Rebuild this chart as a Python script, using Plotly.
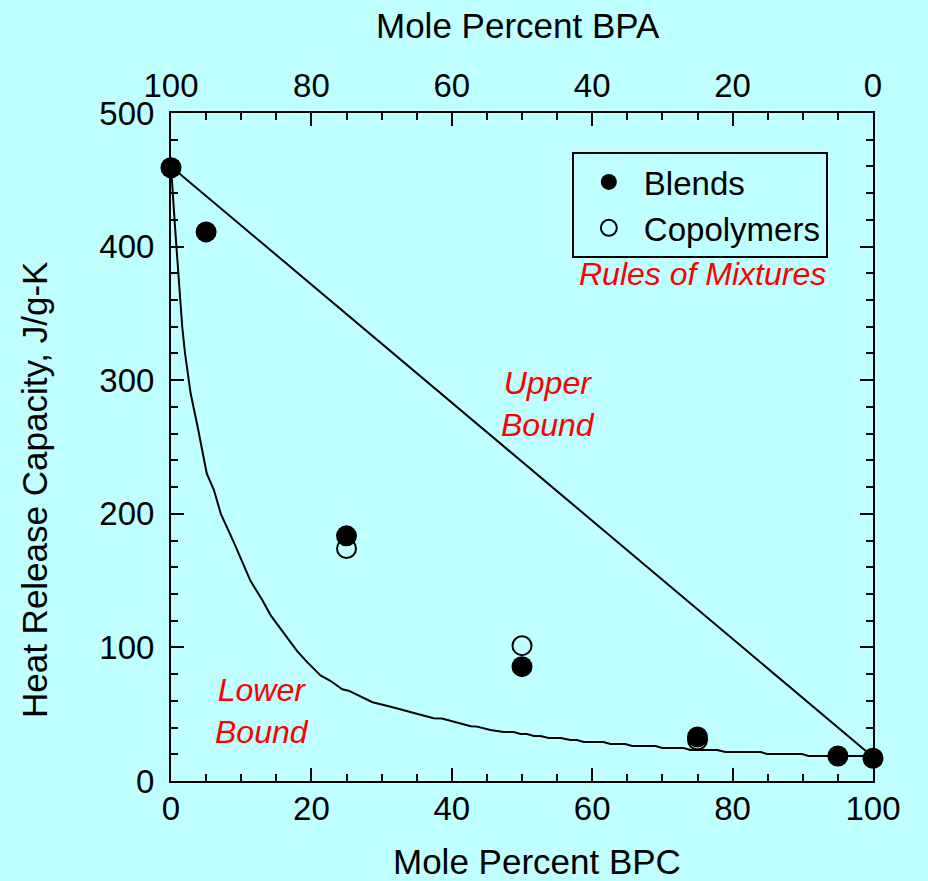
import plotly.graph_objects as go

# ---- data ----
blend_x = [0, 5, 25, 50, 75, 95, 100]
blend_y = [459, 411, 183.5, 85.6, 33, 18.7, 17]

copo_x = [25, 50, 75]
copo_y = [174, 101.3, 30.7]

upper_x = [0, 100]
upper_y = [460, 18]

lower_x = [0, 0.3, 0.57, 0.91, 1.6, 2.0, 2.8, 3.8, 4.8, 5.1, 6.1, 7.1, 9.0, 10.2,
           11.3, 13.0, 14.2, 15.6, 16.6, 18.0, 19.4, 21.3, 22.7, 24.4, 25.3, 27.0,
           28.7, 31.3, 32.7, 35.1, 37.4, 38.6, 40.5, 42.7, 43.6, 45.5, 47.4, 48.8,
           49.8, 50.7, 51.7, 52.6, 53.8, 55.5, 56.9, 57.8, 58.8, 61.6, 62.6, 64.7,
           65.7, 69.0, 70.0, 73.0, 74.0, 77.8, 79.0, 84.0, 84.9, 89.9, 90.8, 99.6, 100]
lower_y = [460, 440, 415, 390, 340, 320, 290, 265, 240, 230, 218, 200, 178, 163,
           150, 135.5, 124, 114, 107, 97, 89, 79, 75, 68.7, 67.6, 63.6,
           59, 55.6, 53.7, 50.7, 47, 46.7, 44, 41, 40.7, 38.2, 36.7, 36.7,
           35.2, 35.2, 33.7, 33.7, 32.2, 32.2, 30.7, 30.7, 29.2, 29.2, 27.7, 27.7,
           26.2, 26.2, 24.7, 24.7, 23.2, 23.2, 21.7, 21.7, 20.2, 20.2, 18.7, 18.7, 18]

x_ticks = [0, 20, 40, 60, 80, 100]
top_ticks = [100, 80, 60, 40, 20, 0]
y_ticks = [0, 100, 200, 300, 400, 500]

x_title = "Mole Percent BPC"
top_title = "Mole Percent BPA"
y_title = "Heat Release Capacity, J/g-K"

BG = "#C0FFFF"
FONT = "Liberation Sans, Arial, sans-serif"

fig = go.Figure()
fig.add_trace(go.Scatter(x=upper_x, y=upper_y, mode="lines",
                         line=dict(color="black", width=2), showlegend=False,
                         cliponaxis=False))
fig.add_trace(go.Scatter(x=lower_x, y=lower_y, mode="lines",
                         line=dict(color="black", width=2), showlegend=False,
                         cliponaxis=False))
fig.add_trace(go.Scatter(x=blend_x, y=blend_y, mode="markers", name="Blends",
                         marker=dict(symbol="circle", size=21, color="black",
                                     line=dict(width=0)),
                         cliponaxis=False))
fig.add_trace(go.Scatter(x=copo_x, y=copo_y, mode="markers", name="Copolymers",
                         marker=dict(symbol="circle-open", size=19, color="black",
                                     line=dict(width=2)),
                         cliponaxis=False))
# invisible trace to activate the top axis
fig.add_trace(go.Scatter(x=[100 - v for v in blend_x], y=blend_y, xaxis="x2",
                         mode="markers", marker=dict(opacity=0), showlegend=False,
                         hoverinfo="skip"))

axis_common = dict(showline=True, linecolor="black", linewidth=2, ticks="inside",
                   ticklen=13, tickwidth=2, tickcolor="black", showgrid=False,
                   zeroline=False, layer="below traces", automargin=False,
                   tickfont=dict(family=FONT, size=33, color="black"))
minor_x = dict(dtick=5, ticks="inside", ticklen=7, tickwidth=2, tickcolor="black")

fig.update_layout(
    width=928, height=881,
    paper_bgcolor=BG, plot_bgcolor=BG,
    margin=dict(l=171, r=55, t=113, b=100, autoexpand=False),
    font=dict(family=FONT, color="black"),
    xaxis=dict(range=[0, 100], tickvals=x_ticks, minor=minor_x,
               ticklabelstandoff=-3, **axis_common),
    xaxis2=dict(range=[100, 0], overlaying="x", side="top", tickvals=top_ticks,
                minor=minor_x, ticklabelstandoff=1, **axis_common),
    yaxis=dict(range=[0, 500], tickvals=y_ticks, mirror="ticks",
               minor=dict(dtick=20, ticks="inside", ticklen=7, tickwidth=2, tickcolor="black"),
               ticklabelstandoff=8, **axis_common),
    legend=dict(x=0.571, y=0.9416, xanchor="left", yanchor="top",
                bgcolor=BG, bordercolor="black", borderwidth=2,
                font=dict(family=FONT, size=33, color="black"),
                itemwidth=60, itemsizing="trace"),
)

# axis titles (placed as in the original, slightly off-centre)
title_font = dict(family=FONT, size=35, color="black")
fig.add_annotation(text=x_title, x=0.5207, y=-0.121, xref="paper", yref="paper",
                   xanchor="center", yanchor="middle", showarrow=False, font=title_font)
fig.add_annotation(text=top_title, x=0.4936, y=1.131, xref="paper", yref="paper",
                   xanchor="center", yanchor="middle", showarrow=False, font=title_font)
fig.add_annotation(text=y_title, x=-0.1952, y=0.437, xref="paper", yref="paper",
                   xanchor="center", yanchor="middle", textangle=-90,
                   showarrow=False, font=title_font)

ann_font = dict(family=FONT, size=32, color="red")
for txt, ax, ay in [("<i>Rules of Mixtures</i>", 0.7565, 0.759),
                    ("<i>Upper<br>Bound</i>", 0.537, 0.564),
                    ("<i>Lower<br>Bound</i>", 0.129, 0.1055)]:
    fig.add_annotation(text=txt, x=ax, y=ay, xref="paper", yref="paper",
                       xanchor="center", yanchor="middle",
                       showarrow=False, font=ann_font)

fig.write_html("out.html", config={"displayModeBar": False},
               post_script="document.body.style.margin='0px';document.body.style.overflow='hidden';")
